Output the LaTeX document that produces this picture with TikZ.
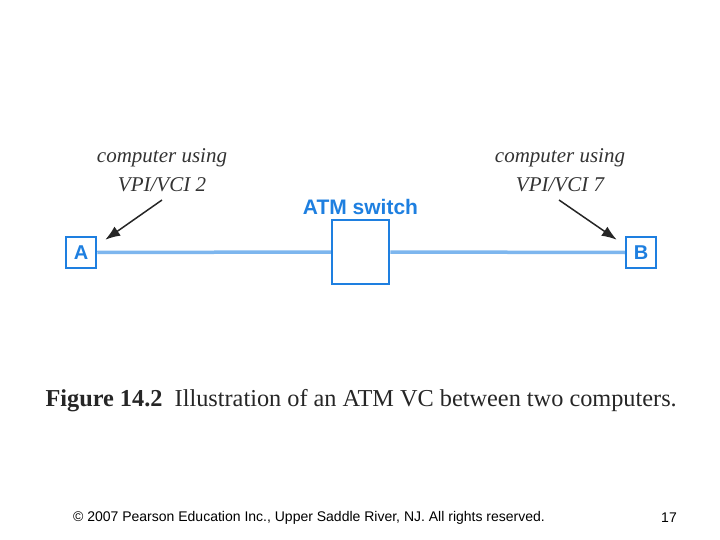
\documentclass[tikz,border=0pt]{standalone}
\usepackage{fontspec}
\setmainfont{Liberation Serif}
\setsansfont{Liberation Sans}
\usetikzlibrary{arrows.meta,calc}
\definecolor{atmblue}{HTML}{1E7FE0}
\definecolor{linkblue}{HTML}{7DB6EE}
\begin{document}
\begin{tikzpicture}[x=1pt,y=-1pt,
  endbox/.style={draw=atmblue,line width=2.5pt,fill=white,minimum width=30pt,minimum height=31pt,inner sep=0pt,font=\sffamily\bfseries\fontsize{20}{20}\selectfont,text=atmblue},
  swbox/.style={draw=atmblue,line width=2.5pt,fill=white,minimum width=57pt,minimum height=64pt,inner sep=0pt},
  link/.style={draw=linkblue,line width=3.5pt},
  note/.style={font=\itshape\fontsize{21}{29}\selectfont,align=center,text=black!80},
  pointer/.style={draw=black!85,line width=1.5pt,-{Latex[length=15pt,width=11pt]}}]
\useasboundingbox (0,0) rectangle (720,540);
\node[endbox] (A) at (81,252.5) {A};
\node[endbox] (B) at (641,252.5) {B};
\node[swbox] (S) at (360.5,252) {};
\draw[link] (A.east) -- (S.west);
\draw[link] (S.east) -- (B.west);
\node[font=\sffamily\bfseries\fontsize{21}{21}\selectfont,text=atmblue] (lbl) at (360.5,207) {ATM switch};
\node[note] (nA) at (162,170) {computer using\\VPI/VCI 2};
\node[note] (nB) at (560,170) {computer using\\VPI/VCI 7};
\coordinate (tA) at (162,200);
\coordinate (tB) at (559,200);
\draw[pointer] (tA) -- ($(A.north east)+(8,4)$);
\draw[pointer] (tB) -- ($(B.north west)+(-8,4)$);
\node[anchor=west,font=\fontsize{24.3}{24.3}\selectfont,text=black!85] (cap) at (42,401) {\textbf{Figure 14.2}\hspace{0.5em}Illustration of an ATM VC between two computers.};
\node[font=\sffamily\fontsize{14}{14}\selectfont] (foot) at (309,518) {© 2007 Pearson Education Inc., Upper Saddle River, NJ. All rights reserved.};
\node[font=\sffamily\fontsize{14}{14}\selectfont] (pg) at (669,518) {17};
\end{tikzpicture}
\end{document}
